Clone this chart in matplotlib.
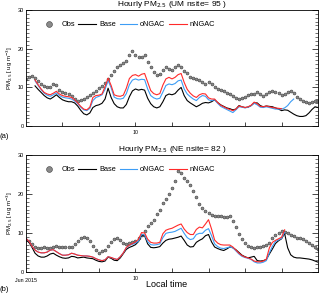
import numpy as np
import matplotlib
matplotlib.use("Agg")
import matplotlib.pyplot as plt
from matplotlib.ticker import MultipleLocator

plt.rcParams['font.family'] = ['Liberation Sans', 'DejaVu Sans']

# ---------------------------------------------------------------
# DATA  (2-hourly values, starting 7 Jun 2015 00 LT)
# ---------------------------------------------------------------
nan = np.nan

obs_a = [12.2, 12.7, 13.0, 12.5, 11.7, 10.9, 10.4, 10.1, 10.1, 10.8, 10.6, 9.4,
         8.9, 8.6, 8.4, 7.8, 7.1, 6.6, 6.8, 7.1, 7.5, 8.0, 8.6, 9.2,
         9.8, 10.4, 11.1, 12.2, 13.2, 14.3, 15.2, 15.9, 16.2, 16.8, 18.3, 19.3,
         18.5, 17.8, 17.8, 18.4, 16.5, 15.2, 14.1, 13.2, 13.4, 14.5, 15.4, 14.7,
         14.5, 15.3, 15.9, 15.4, 14.3, 13.6, 12.8, 12.4, 12.2, 11.8, 11.3, 11.0,
         11.3, 10.8, 10.1, 9.7, 9.3, 9.0, 8.6, 8.2, 7.9, 7.3, 7.0, 7.2,
         7.6, 8.0, 8.2, 8.4, 8.7, 8.3, 7.9, 8.3, 8.7, 9.0, 8.9, 8.5,
         8.0, 8.2, 8.8, 9.0, 8.5, 7.6, 7.0, 6.6, 6.3, 6.1, 6.2, 6.4, 6.5]

base_a = [nan, nan, nan, 10.4, 9.5, 8.7, 7.9, 7.3, 7.0, 7.5, 8.1, 7.4,
          6.8, 6.5, 6.3, 6.3, 6.0, 5.2, 4.1, 3.2, 2.9, 3.4, 4.8, 5.3,
          5.5, 5.9, 7.0, 9.8, 7.4, 5.8, 5.0, 4.7, 4.7, 5.6, 7.6, 9.1,
          9.6, 9.3, 9.5, 9.3, 7.2, 5.8, 5.0, 4.7, 5.0, 6.3, 7.9, 8.3,
          8.1, 8.4, 9.3, 10.0, 7.9, 6.6, 6.0, 5.5, 5.0, 5.4, 5.9, 6.1,
          6.0, 6.3, 6.8, 6.1, 5.5, 5.1, 4.7, 4.5, 4.2, 4.4, 5.3, 5.0,
          4.8, 4.9, 5.3, 6.0, 6.0, 5.3, 5.0, 5.2, 5.1, 5.0, 4.7, 4.4,
          4.0, 4.2, 4.1, 3.6, 3.1, 2.7, 2.5, 2.5, 2.7, 3.4, 4.3, 5.0, 4.8]

ongac_a = [nan, nan, nan, 11.7, 10.5, 9.4, 8.5, 8.0, 7.7, 8.1, 8.6, 7.9,
           7.5, 7.3, 7.2, 7.0, 6.5, 5.8, 4.9, 4.2, 4.0, 4.6, 6.6, 7.4,
           7.7, 8.1, 9.5, 11.8, 9.9, 7.5, 7.1, 7.0, 7.2, 8.4, 10.7, 11.9,
           12.2, 11.9, 12.1, 12.0, 9.6, 7.9, 7.3, 7.0, 7.2, 8.8, 10.5, 10.9,
           10.7, 11.0, 11.7, 11.9, 9.6, 8.3, 7.6, 7.0, 6.6, 7.4, 7.9, 7.7,
           6.8, 6.6, 6.8, 5.9, 5.1, 4.7, 4.3, 3.9, 3.5, 4.2, 5.0, 4.9,
           4.7, 4.9, 5.3, 5.9, 5.5, 4.9, 4.8, 5.0, 4.8, 4.6, 4.4, 4.4,
           4.4, 4.7, 5.3, 6.3, 7.0, nan, nan, nan, nan, nan, nan, nan, nan]

nngac_a = [nan, nan, nan, 11.9, 10.7, 9.6, 8.7, 8.3, 8.1, 8.5, 9.0, 8.3,
           7.9, 7.7, 7.6, 7.4, 6.8, 6.0, 5.1, 4.4, 4.2, 4.9, 7.4, 7.9,
           8.0, 8.3, 10.2, 12.4, 10.5, 8.1, 7.8, 7.7, 8.0, 9.8, 12.3, 13.1,
           13.3, 12.9, 13.4, 13.6, 11.4, 9.2, 8.4, 8.1, 8.4, 10.6, 12.2, 12.6,
           12.2, 12.6, 13.3, 13.6, 11.3, 9.5, 8.5, 7.8, 7.4, 8.1, 8.4, 8.3,
           7.3, 7.0, 7.0, 6.1, 5.4, 5.0, 4.6, 4.3, 4.0, 4.4, 5.2, 5.0,
           4.8, 5.0, 5.4, 6.2, 5.8, 5.1, 5.0, 5.2, 5.0, 4.8, 4.7, 4.6,
           4.5, nan, nan, nan, nan, nan, nan, nan, nan, nan, nan, nan, nan]

obs_b = [8.2, 8.0, 7.2, 6.5, 6.1, 6.1, 6.3, 6.2, 6.1, 6.5, 6.7, 6.5,
         6.4, 6.4, 6.3, 6.4, 7.2, 8.0, 8.7, 9.0, 8.7, 7.9, 6.7, 5.5,
         4.9, 5.3, 5.7, 6.6, 7.6, 8.4, 8.8, 8.1, 7.5, 7.1, 7.3, 7.6,
         8.0, 8.6, 9.4, 10.4, 11.7, 12.6, 13.4, 14.8, 16.0, 17.6, 18.7, 19.9,
         21.4, 23.3, 26.0, 25.3, 24.2, 23.2, 22.3, 20.7, 19.2, 17.5, 16.4, 15.5,
         15.0, 14.6, 14.4, 14.4, 14.3, 14.1, 14.1, 14.4, 13.1, 11.5, 9.8, 8.4,
         7.3, 6.6, 6.3, 6.2, 6.3, 6.4, 6.6, 7.0, 7.5, 8.6, 9.6, 10.1,
         10.5, 10.2, 9.9, 9.6, 9.1, 8.8, 8.6, 8.4, 8.0, 7.5, 7.0, 6.4, 6.0]

base_b = [8.4, 7.6, 6.3, 4.8, 4.1, 3.8, 3.8, 4.1, 4.6, 4.8, 4.3, 3.9,
          3.6, 3.5, 3.6, 4.0, 3.9, 3.6, 3.7, 3.8, 3.6, 3.5, 3.4, 3.0,
          2.7, 2.6, 2.8, 3.8, 3.5, 3.0, 2.9, 3.6, 4.7, 5.8, 6.3, 6.6,
          7.0, 7.8, 9.3, 9.3, 7.2, 6.3, 6.2, 6.3, 6.5, 7.4, 8.1, 8.4,
          8.5, 8.7, 8.9, 9.2, 8.1, 6.9, 6.4, 6.5, 7.6, 8.1, 8.5, 9.3,
          9.6, 7.7, 6.4, 6.0, 5.7, 5.5, 5.9, 6.4, 6.2, 5.7, 5.0, 4.3,
          3.9, 3.6, 3.8, 4.0, 2.9, 2.8, 2.9, 3.2, 4.6, 5.9, 7.3, 8.0,
          8.5, 9.9, 6.2, 4.4, 3.8, 3.6, 3.6, 3.5, 3.4, 3.3, 3.1, 2.8, 2.5]

ongac_b = [8.6, 7.9, 6.6, 5.6, 5.1, 4.9, 4.9, 5.1, 5.6, 5.7, 5.2, 4.7,
           4.3, 4.3, 4.4, 4.8, 4.6, 4.3, 4.2, 4.1, 4.1, 4.0, 3.8, 3.4,
           3.1, 2.9, 3.1, 3.9, 3.7, 3.4, 3.2, 3.9, 4.9, 6.2, 6.8, 7.1,
           7.4, 7.9, 9.6, 9.5, 7.8, 7.0, 6.9, 7.0, 7.2, 8.8, 9.9, 10.1,
           10.2, 10.4, 10.8, 11.2, 9.9, 8.8, 8.3, 8.5, 9.6, 9.9, 9.9, 10.7,
           11.1, 9.3, 7.2, 6.5, 6.1, 6.0, 6.2, 6.4, 6.2, 5.4, 4.6, 4.0,
           3.7, 3.5, 3.2, 2.6, 2.3, 2.3, 2.5, 2.9, 4.9, 6.6, 7.8, 8.2,
           8.6, 10.1, nan, nan, nan, nan, nan, nan, nan, nan, nan, nan, nan]

nngac_b = [8.6, 7.9, 6.6, 5.6, 5.1, 4.9, 4.9, 5.1, 5.6, 5.7, 5.2, 4.7,
           4.3, 4.3, 4.4, 4.8, 4.6, 4.3, 4.2, 4.1, 4.1, 4.0, 3.8, 3.4,
           3.1, 2.9, 3.1, 3.9, 3.7, 3.4, 3.2, 3.9, 4.9, 6.3, 6.9, 7.3,
           7.7, 8.4, 10.1, 10.0, 8.4, 7.6, 7.4, 7.4, 7.6, 9.8, 10.7, 11.0,
           11.2, 11.6, 12.0, 12.3, 11.0, 10.1, 9.6, 9.6, 10.9, 11.5, 11.3, 12.3,
           13.4, 11.0, 8.2, 7.4, 7.0, 6.9, 6.9, 6.9, 6.4, 5.6, 4.8, 4.2,
           3.8, 3.6, 3.3, 2.8, 2.6, 2.6, 2.8, 3.3, 6.2, 7.6, 8.1, 8.5,
           8.9, 10.8, nan, nan, nan, nan, nan, nan, nan, nan, nan, nan, nan]

panels = [
    ("(a)", "Hourly PM$_{2.5}$ (UM nsite= 95 )", obs_a, base_a, ongac_a, nngac_a),
    ("(b)", "Hourly PM$_{2.5}$ (NE nsite= 82 )", obs_b, base_b, ongac_b, nngac_b),
]

# time axis in days since 7 Jun 2015 00 LT
days = np.arange(len(obs_a)) * 2 / 24.0

# ---------------------------------------------------------------
# PLOT
# ---------------------------------------------------------------
fig = plt.figure(figsize=(3.2, 2.94), dpi=100)
boxes = [[0.081, 0.571, 0.913, 0.395], [0.081, 0.075, 0.913, 0.398]]

for box, (tag, title, obs, base, ongac, nngac) in zip(boxes, panels):
    ax = fig.add_axes(box)
    ax.plot(days, obs, 'o', ms=2.1, mfc='#8a8a8a', mec='#3c3c3c', mew=0.4, label='Obs')
    ax.plot(days, base, color='black', lw=0.8, label='Base')
    ax.plot(days, ongac, color='#3d9df5', lw=0.8, label='oNGAC')
    ax.plot(days, nngac, color='#ff2a2a', lw=0.8, label='nNGAC')

    ax.set_xlim(0, 8)
    ax.set_ylim(0, 30)
    ax.set_xticks(range(1, 8))
    ax.set_xticklabels(['', '', '10', '', '', '', ''])
    ax.yaxis.set_major_locator(MultipleLocator(10))
    ax.yaxis.set_minor_locator(MultipleLocator(1))
    ax.tick_params(axis='y', which='major', direction='in', length=4, width=0.5,
                   labelsize=4, pad=1.5, right=True)
    ax.tick_params(axis='y', which='minor', direction='in', length=2, width=0.4, right=True)
    ax.tick_params(axis='x', direction='in', length=3, width=0.5, labelsize=3.8, pad=3)
    for s in ax.spines.values():
        s.set_linewidth(0.6)

    ax.set_title(title, fontsize=6, pad=1.5)
    ax.set_ylabel('PM$_{2.5}$ [ ug m$^{-3}$]', fontsize=4.3, labelpad=2)
    ax.legend(loc='upper left', bbox_to_anchor=(0.04, 0.93), ncol=4, frameon=False,
              fontsize=5.3, handlelength=2.4, handletextpad=0.4, columnspacing=0.5,
              markerscale=2.0, borderaxespad=0)

fig.text(0.0, 0.535, "(a)", fontsize=5.5, va='center')
fig.text(0.0, 0.017, "(b)", fontsize=5.5, va='center')
fig.text(0.081, 0.045, "Jun 2015", fontsize=3.8, ha='center', va='center')
fig.text(0.52, 0.034, "Local time", fontsize=6.5, ha='center', va='center')

fig.savefig("out.png", dpi=100)
